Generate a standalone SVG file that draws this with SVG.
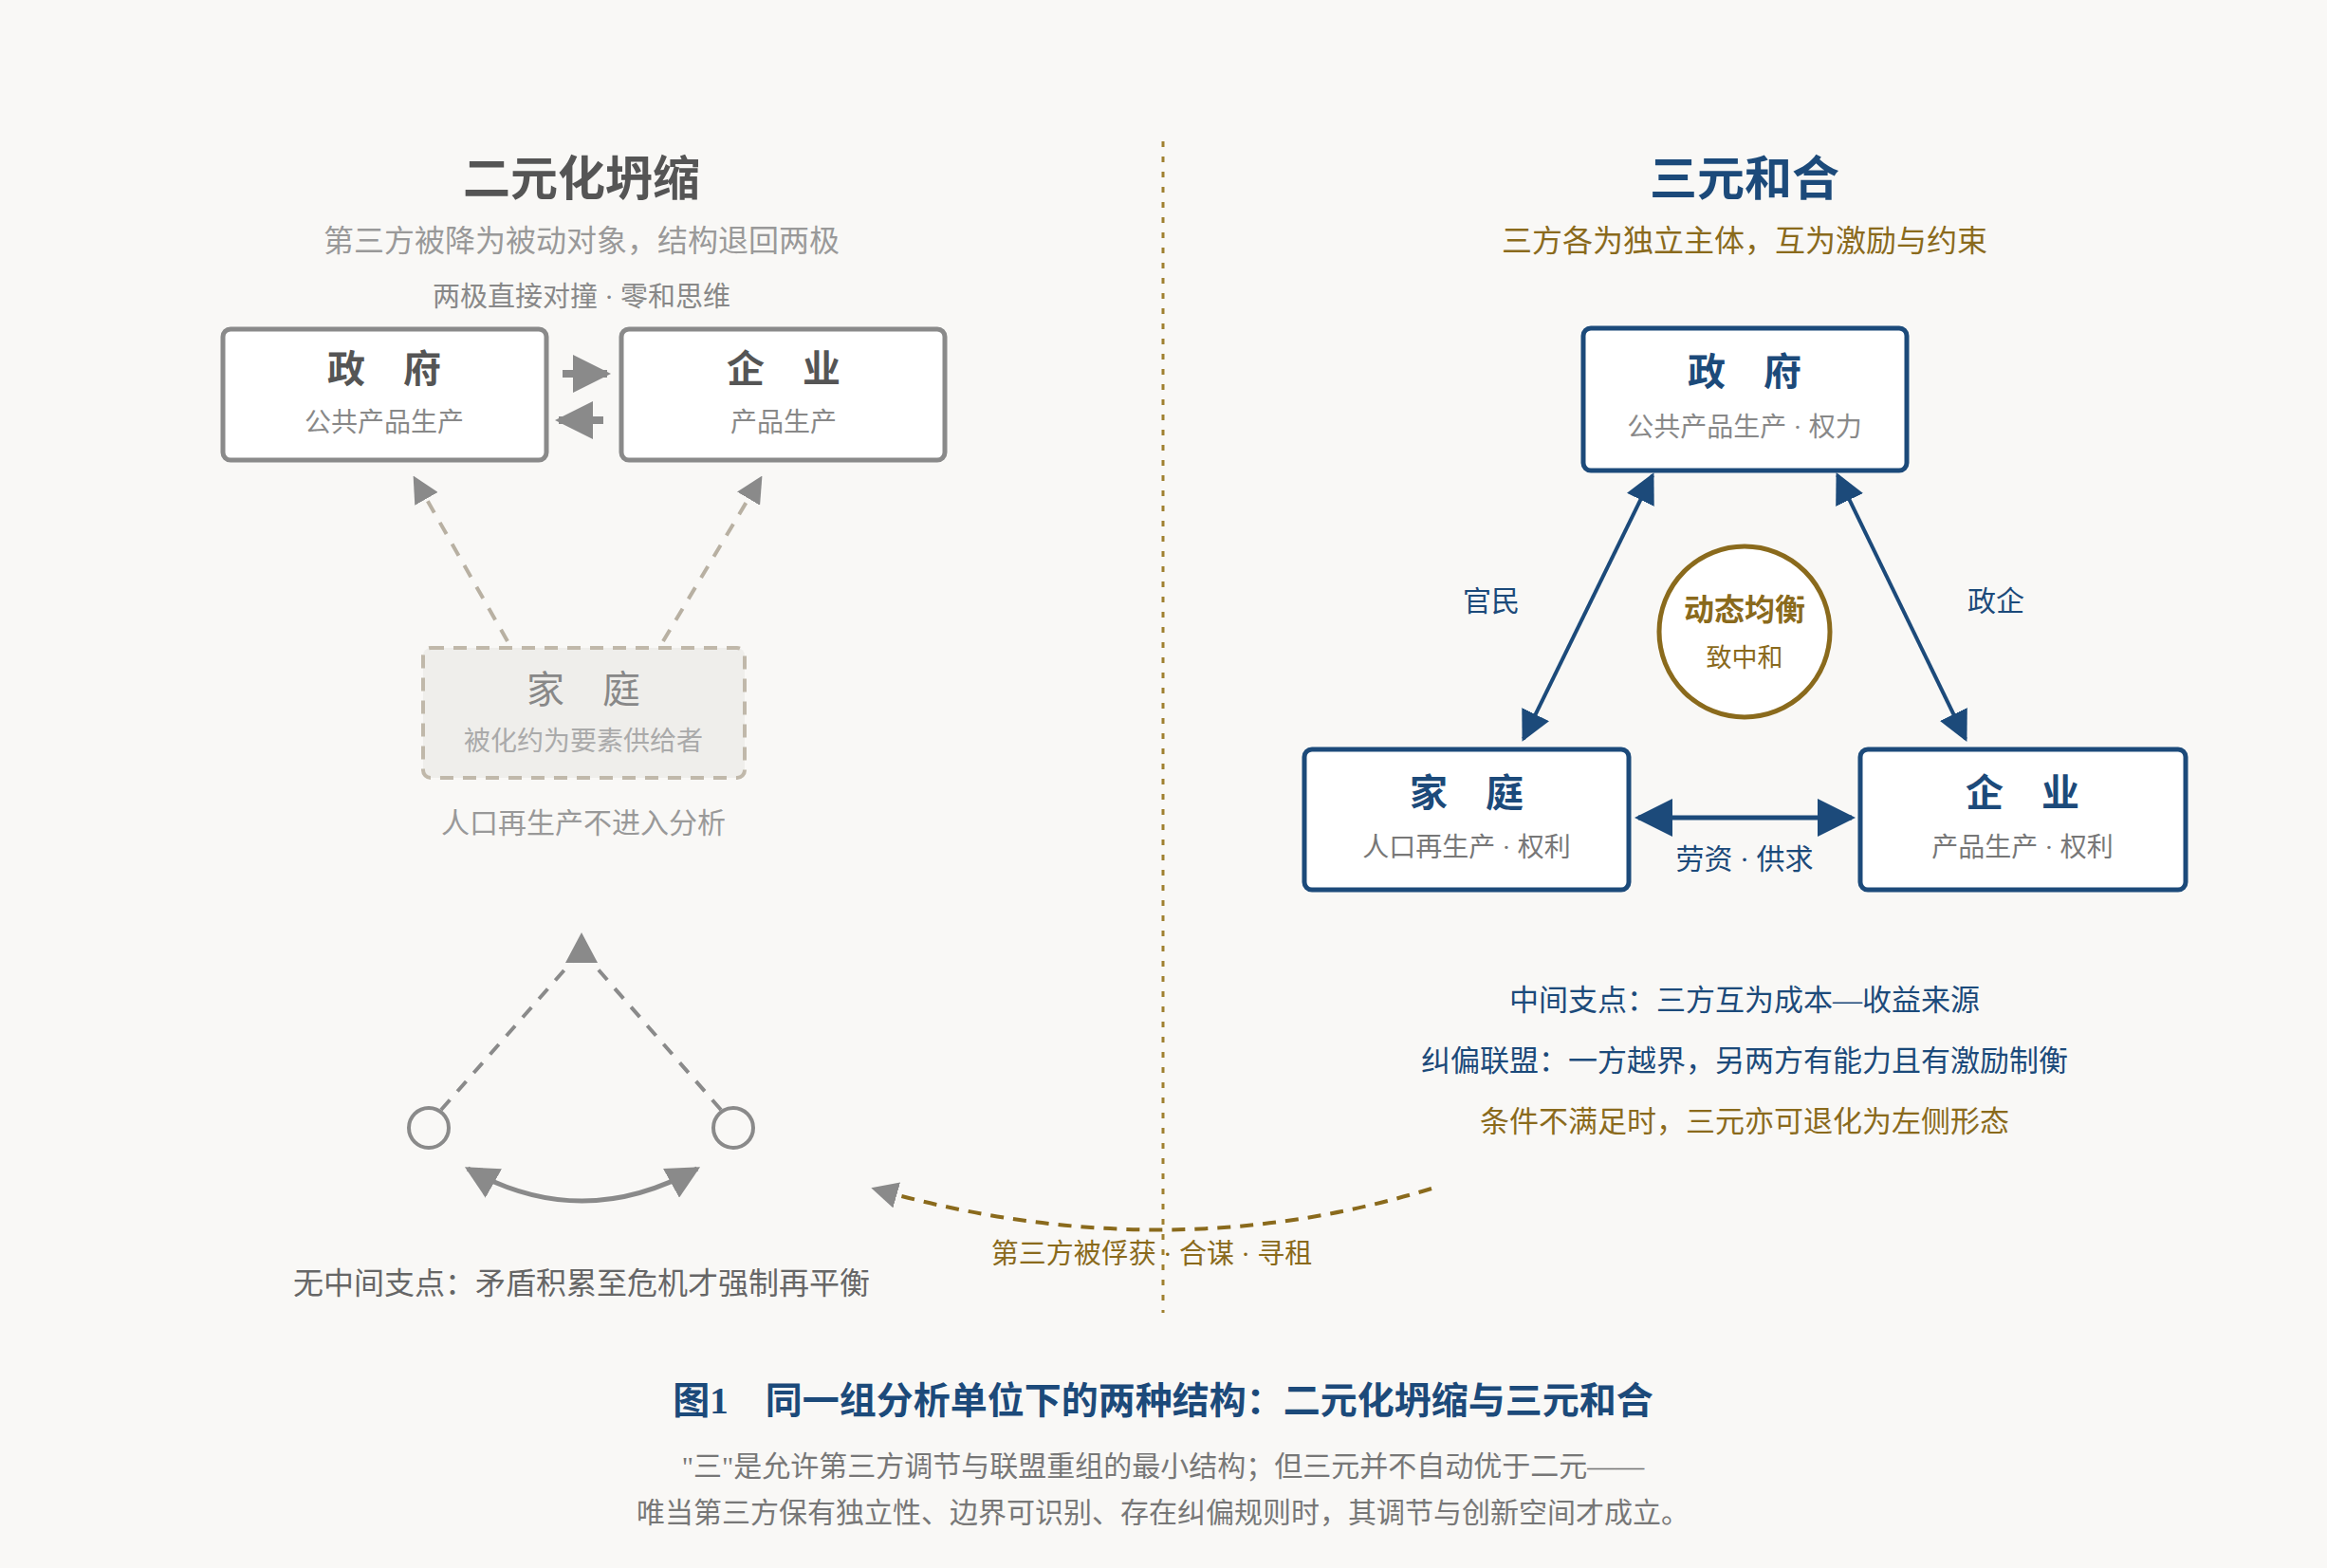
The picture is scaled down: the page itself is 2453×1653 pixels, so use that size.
<svg xmlns="http://www.w3.org/2000/svg" width="2453" height="1653" viewBox="0 0 2453 1653">
<style>
text{font-family:"Liberation Serif","Noto Sans CJK SC",serif;text-anchor:middle}
.h{font-size:50px;font-weight:bold}
.sub{font-size:32px}
.bt{font-size:40px;font-weight:bold}
.bs{font-size:28px;fill:#888}
.gbox{fill:#fff;stroke:#8a8a8a;stroke-width:5}
.bbox{fill:#fff;stroke:#1c4a7a;stroke-width:5}
.blue{fill:#1c4a7a}
.gold{fill:#8a6a1c}
</style>
<defs>
<marker id="ag" viewBox="0 0 10 10" refX="9" refY="5" markerWidth="5" markerHeight="5" orient="auto-start-reverse"><path d="M0,0L10,5L0,10z" fill="#8a8a8a"/></marker>
<marker id="ab" viewBox="0 0 10 10" refX="9" refY="5" markerWidth="8" markerHeight="8" orient="auto-start-reverse"><path d="M0,0L10,5L0,10z" fill="#1c4a7a"/></marker>
<marker id="ao" viewBox="0 0 10 10" refX="9" refY="5" markerWidth="7" markerHeight="7" orient="auto-start-reverse"><path d="M0,0L10,5L0,10z" fill="#8a8a8a"/></marker>
</defs>
<rect width="2453" height="1653" fill="#f9f8f6"/>
<text x="613" y="206" class="h" fill="#555">二元化坍缩</text>
<text x="613" y="265" class="sub" fill="#999">第三方被降为被动对象，结构退回两极</text>
<text x="613" y="323" font-size="29" fill="#888">两极直接对撞 · 零和思维</text>
<text x="1839" y="206" class="h blue">三元和合</text>
<text x="1839" y="265" class="sub gold">三方各为独立主体，互为激励与约束</text>
<line x1="1226" y1="149" x2="1226" y2="1384" stroke="#a08030" stroke-width="3" stroke-dasharray="6 10"/>
<g id="connectors">
<line x1="593" y1="394" x2="640" y2="394" stroke="#8a8a8a" stroke-width="8" marker-end="url(#ag)"/>
<line x1="636" y1="443" x2="589" y2="443" stroke="#8a8a8a" stroke-width="8" marker-end="url(#ag)"/>
<line x1="535" y1="676" x2="437" y2="504" stroke="#b8b0a2" stroke-width="4" stroke-dasharray="14 12" marker-end="url(#ao)"/>
<line x1="699" y1="676" x2="802" y2="504" stroke="#b8b0a2" stroke-width="4" stroke-dasharray="14 12" marker-end="url(#ao)"/>
<line x1="465" y1="1170" x2="606" y2="1010" stroke="#8a8a8a" stroke-width="4" stroke-dasharray="14 12"/>
<line x1="760" y1="1170" x2="620" y2="1010" stroke="#8a8a8a" stroke-width="4" stroke-dasharray="14 12"/>
<path d="M613,983L596,1015L630,1015z" fill="#8a8a8a"/>
<path d="M493,1232Q613,1300 735,1232" fill="none" stroke="#8a8a8a" stroke-width="5" marker-start="url(#ao)" marker-end="url(#ao)"/>
<path d="M1509,1253Q1226,1340 921,1253" fill="none" stroke="#8a6a1c" stroke-width="4" stroke-dasharray="14 10" marker-end="url(#ao)"/>
<line x1="1742" y1="501" x2="1606" y2="779" stroke="#1c4a7a" stroke-width="4" marker-start="url(#ab)" marker-end="url(#ab)"/>
<line x1="1937" y1="501" x2="2072" y2="779" stroke="#1c4a7a" stroke-width="4" marker-start="url(#ab)" marker-end="url(#ab)"/>
<line x1="1727" y1="862" x2="1952" y2="862" stroke="#1c4a7a" stroke-width="5" marker-start="url(#ab)" marker-end="url(#ab)"/>
</g>
<circle cx="452" cy="1189" r="21" fill="none" stroke="#8a8a8a" stroke-width="4"/>
<circle cx="773" cy="1189" r="21" fill="none" stroke="#8a8a8a" stroke-width="4"/>
<g id="gov-l"><rect x="235" y="347" width="341" height="138" rx="8" class="gbox"/><text x="405" y="403" class="bt" fill="#555">政　府</text><text x="405" y="455" class="bs">公共产品生产</text></g>
<g id="ent-l"><rect x="655" y="347" width="341" height="138" rx="8" class="gbox"/><text x="826" y="403" class="bt" fill="#555">企　业</text><text x="826" y="455" class="bs">产品生产</text></g>
<g id="fam-l"><rect x="446" y="683" width="339" height="137" rx="8" fill="#efeeeb" stroke="#c0b8aa" stroke-width="4" stroke-dasharray="14 10"/><text x="615" y="741" font-size="40" fill="#888">家　庭</text><text x="615" y="791" class="bs" style="fill:#aaa">被化约为要素供给者</text></g>
<text x="615" y="878" font-size="30" fill="#999">人口再生产不进入分析</text>
<text x="613" y="1364" font-size="32" fill="#666">无中间支点：矛盾积累至危机才强制再平衡</text>
<text x="1214" y="1332" font-size="29" class="gold">第三方被俘获 · 合谋 · 寻租</text>
<g id="gov-r"><rect x="1669" y="346" width="341" height="150" rx="8" class="bbox"/><text x="1839" y="406" class="bt blue">政　府</text><text x="1839" y="460" class="bs">公共产品生产 · 权力</text></g>
<g id="fam-r"><rect x="1375" y="790" width="342" height="148" rx="8" class="bbox"/><text x="1546" y="850" class="bt blue">家　庭</text><text x="1546" y="903" class="bs" style="fill:#777">人口再生产 · 权利</text></g>
<g id="ent-r"><rect x="1961" y="790" width="343" height="148" rx="8" class="bbox"/><text x="2132" y="850" class="bt blue">企　业</text><text x="2132" y="903" class="bs" style="fill:#777">产品生产 · 权利</text></g>
<g id="center"><circle cx="1839" cy="666" r="90" fill="#fff" stroke="#8a6a1c" stroke-width="5"/><text x="1839" y="654" font-size="32" font-weight="bold" class="gold">动态均衡</text><text x="1839" y="703" font-size="27" class="gold">致中和</text></g>
<text x="1572" y="644" font-size="30" class="blue">官民</text>
<text x="2104" y="644" font-size="30" class="blue">政企</text>
<text x="1839" y="916" font-size="30" class="blue">劳资 · 供求</text>
<text x="1839" y="1065" font-size="31" class="blue">中间支点：三方互为成本—收益来源</text>
<text x="1839" y="1129" font-size="31" class="blue">纠偏联盟：一方越界，另两方有能力且有激励制衡</text>
<text x="1839" y="1193" font-size="31" class="gold">条件不满足时，三元亦可退化为左侧形态</text>
<text x="1226" y="1490" font-size="39" font-weight="bold" class="blue">图1　同一组分析单位下的两种结构：二元化坍缩与三元和合</text>
<text x="1226" y="1556" font-size="30" fill="#777">"三"是允许第三方调节与联盟重组的最小结构；但三元并不自动优于二元——</text>
<text x="1226" y="1605" font-size="30" fill="#777">唯当第三方保有独立性、边界可识别、存在纠偏规则时，其调节与创新空间才成立。</text>
</svg>
